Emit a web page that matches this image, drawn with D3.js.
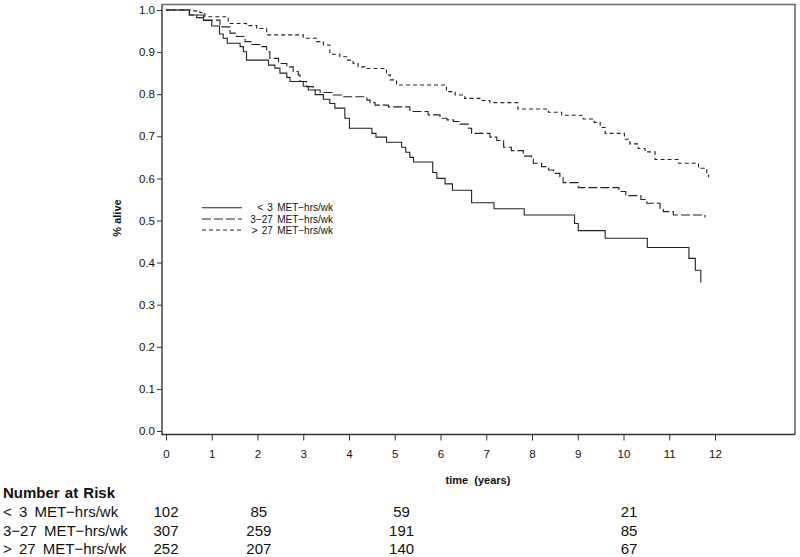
<!DOCTYPE html>
<html>
<head>
<meta charset="utf-8">
<script src="https://cdn.jsdelivr.net/npm/d3@7"></script>
<style>
  html, body { margin: 0; padding: 0; background: #fff; }
  svg { display: block; font-family: "Liberation Sans", Arial, Helvetica, sans-serif; }
</style>
</head>
<body>
<svg id="chart" width="800" height="557"></svg>
<script>
// ---------- data ----------
const groupLabels = ["< 3 MET\u2212hrs/wk", "3\u221227 MET\u2212hrs/wk", "> 27 MET\u2212hrs/wk"];

const lowTimes = [0, 0.51, 0.82, 1.0, 1.17, 1.25, 1.34, 1.62, 1.69, 1.76, 2.24, 2.38, 2.49, 2.64, 2.71, 3.0, 3.11, 3.26, 3.44, 3.58, 3.69, 3.91, 4.01, 4.50, 4.59, 4.82, 5.15, 5.24, 5.33, 5.41, 5.83, 5.92, 6.10, 6.26, 6.68, 7.17, 7.83, 8.93, 9.01, 9.60, 10.52, 11.43, 11.57, 11.69];
const lowSurv  = [1, 0.988, 0.975, 0.962, 0.943, 0.933, 0.921, 0.913, 0.901, 0.881, 0.869, 0.862, 0.850, 0.840, 0.830, 0.819, 0.810, 0.799, 0.788, 0.778, 0.767, 0.743, 0.719, 0.707, 0.698, 0.686, 0.674, 0.662, 0.650, 0.639, 0.614, 0.600, 0.587, 0.572, 0.542, 0.528, 0.513, 0.493, 0.476, 0.458, 0.436, 0.410, 0.382, 0.353];

const midTimes = [0, 0.51, 0.67, 0.82, 1.18, 1.40, 1.54, 1.73, 1.87, 2.05, 2.20, 2.27, 2.46, 2.64, 2.78, 2.89, 2.93, 3.07, 3.22, 3.37, 3.66, 3.89, 4.39, 4.46, 4.57, 4.86, 5.33, 5.37, 5.73, 5.99, 6.14, 6.28, 6.43, 6.61, 6.68, 7.08, 7.23, 7.38, 7.55, 7.81, 7.99, 8.03, 8.21, 8.36, 8.47, 8.61, 8.68, 9.01, 9.90, 10.05, 10.38, 10.51, 10.80, 10.87, 11.09, 11.78];
const midSurv  = [1, 0.988, 0.982, 0.976, 0.960, 0.945, 0.937, 0.925, 0.918, 0.913, 0.901, 0.885, 0.873, 0.865, 0.854, 0.846, 0.830, 0.818, 0.810, 0.804, 0.798, 0.794, 0.786, 0.780, 0.774, 0.770, 0.762, 0.759, 0.751, 0.743, 0.739, 0.735, 0.729, 0.719, 0.707, 0.698, 0.690, 0.674, 0.666, 0.653, 0.646, 0.636, 0.628, 0.620, 0.612, 0.604, 0.590, 0.578, 0.569, 0.559, 0.550, 0.541, 0.529, 0.521, 0.513, 0.507];

const highTimes = [0, 0.56, 0.74, 0.85, 1.36, 1.76, 1.98, 2.20, 3.0, 3.29, 3.44, 3.58, 3.80, 3.95, 4.09, 4.20, 4.35, 4.82, 4.90, 5.04, 6.13, 6.32, 6.53, 6.86, 7.08, 7.69, 8.36, 8.65, 9.12, 9.36, 9.49, 9.60, 10.02, 10.14, 10.32, 10.47, 10.69, 11.20, 11.64, 11.82, 11.86];
const highSurv  = [1, 0.998, 0.994, 0.984, 0.968, 0.963, 0.956, 0.941, 0.933, 0.925, 0.917, 0.895, 0.889, 0.881, 0.873, 0.865, 0.861, 0.846, 0.834, 0.822, 0.806, 0.798, 0.790, 0.785, 0.780, 0.765, 0.757, 0.750, 0.741, 0.733, 0.721, 0.707, 0.693, 0.682, 0.671, 0.663, 0.645, 0.636, 0.624, 0.612, 0.603];

const xTicks = [0, 1, 2, 3, 4, 5, 6, 7, 8, 9, 10, 11, 12];
const yTicks = [0, 0.1, 0.2, 0.3, 0.4, 0.5, 0.6, 0.7, 0.8, 0.9, 1.0];

const atRiskTitle = "Number at Risk";
const atRiskTimes = [0, 2.03, 5.15, 10.12];
const atRiskLow  = [102, 85, 59, 21];
const atRiskMid  = [307, 259, 191, 85];
const atRiskHigh = [252, 207, 140, 67];

const xTitle = "time  (years)";
const yTitle = "% alive";

// ---------- layout ----------
const frame = { left: 162, right: 795, top: 4.5, bottom: 434.5 };
const x = d3.scaleLinear().domain([0, 12]).range([166, 715]);
const y = d3.scaleLinear().domain([0, 1]).range([431, 10]);

const svg = d3.select("#chart");
svg.append("rect").attr("width", 800).attr("height", 557).attr("fill", "#fff");

// frame (top/right lighter)
svg.append("path")
  .attr("d", `M${frame.left},${frame.top}H${frame.right}V${frame.bottom}`)
  .attr("fill", "none").attr("stroke", "#6a6a6a").attr("stroke-width", 1.6);

// axes
const yAxis = d3.axisLeft(y).tickValues(yTicks).tickFormat(d3.format(".1f"))
  .tickSize(5).tickPadding(2).tickSizeOuter(0);
const gy = svg.append("g").attr("transform", `translate(${frame.left},0)`).call(yAxis);
gy.select(".domain").remove();
gy.selectAll("line").attr("stroke", "#333");
gy.selectAll("text").attr("font-size", 11.5).attr("fill", "#111");

const xAxis = d3.axisBottom(x).tickValues(xTicks).tickFormat(d3.format("d"))
  .tickSize(6).tickPadding(9).tickSizeOuter(0);
const gx = svg.append("g").attr("transform", `translate(0,${frame.bottom})`).call(xAxis);
gx.select(".domain").remove();
gx.selectAll("line").attr("stroke", "#333");
gx.selectAll("text").attr("font-size", 11.5).attr("fill", "#111");

svg.append("path")
  .attr("d", `M${frame.left},${frame.top}V${frame.bottom}H${frame.right}`)
  .attr("fill", "none").attr("stroke", "#333").attr("stroke-width", 1.4);

// axis titles
svg.append("text").attr("x", 478).attr("y", 484).attr("text-anchor", "middle")
  .attr("font-size", 11).attr("font-weight", "bold").attr("fill", "#111")
  .style("white-space", "pre").text(xTitle);
svg.append("text").attr("transform", "translate(121,218) rotate(-90)").attr("text-anchor", "middle")
  .attr("font-size", 11).attr("font-weight", "bold").attr("fill", "#111").text(yTitle);

// curves
const series = [
  { t: lowTimes,  s: lowSurv,  dash: null },
  { t: midTimes,  s: midSurv,  dash: "9,3" },
  { t: highTimes, s: highSurv, dash: "4,3" }
];
const line = d3.line().x(d => x(d[0])).y(d => y(d[1])).curve(d3.curveStepAfter);
series.forEach(sr => {
  const pts = sr.t.map((t, i) => [t, sr.s[i]]);
  svg.append("path").datum(pts).attr("d", line)
    .attr("fill", "none").attr("stroke", "#222").attr("stroke-width", 1.1)
    .attr("stroke-dasharray", sr.dash);
});

// legend
const legY = [207.7, 219, 230];
series.forEach((sr, i) => {
  svg.append("line").attr("x1", 202).attr("x2", 242).attr("y1", legY[i]).attr("y2", legY[i])
    .attr("stroke", "#222").attr("stroke-width", 1.1).attr("stroke-dasharray", sr.dash);
  svg.append("text").attr("x", 333).attr("y", legY[i] + 3.6).attr("text-anchor", "end")
    .attr("font-size", 10).attr("word-spacing", 1.5).attr("fill", "#111").text(groupLabels[i]);
});

// number at risk table
svg.append("text").attr("x", 3).attr("y", 497.5).attr("font-size", 15).attr("font-weight", "bold")
  .attr("word-spacing", 1).attr("fill", "#111").text(atRiskTitle);
const rows = [atRiskLow, atRiskMid, atRiskHigh];
const rowY = [517, 536, 554];
rows.forEach((vals, r) => {
  svg.append("text").attr("x", 3).attr("y", rowY[r]).attr("font-size", 15).attr("word-spacing", 3)
    .attr("fill", "#111").text(groupLabels[r]);
  vals.forEach((v, c) => {
    svg.append("text").attr("x", x(atRiskTimes[c])).attr("y", rowY[r]).attr("text-anchor", "middle")
      .attr("font-size", 15).attr("fill", "#111").text(v);
  });
});
</script>
</body>
</html>
